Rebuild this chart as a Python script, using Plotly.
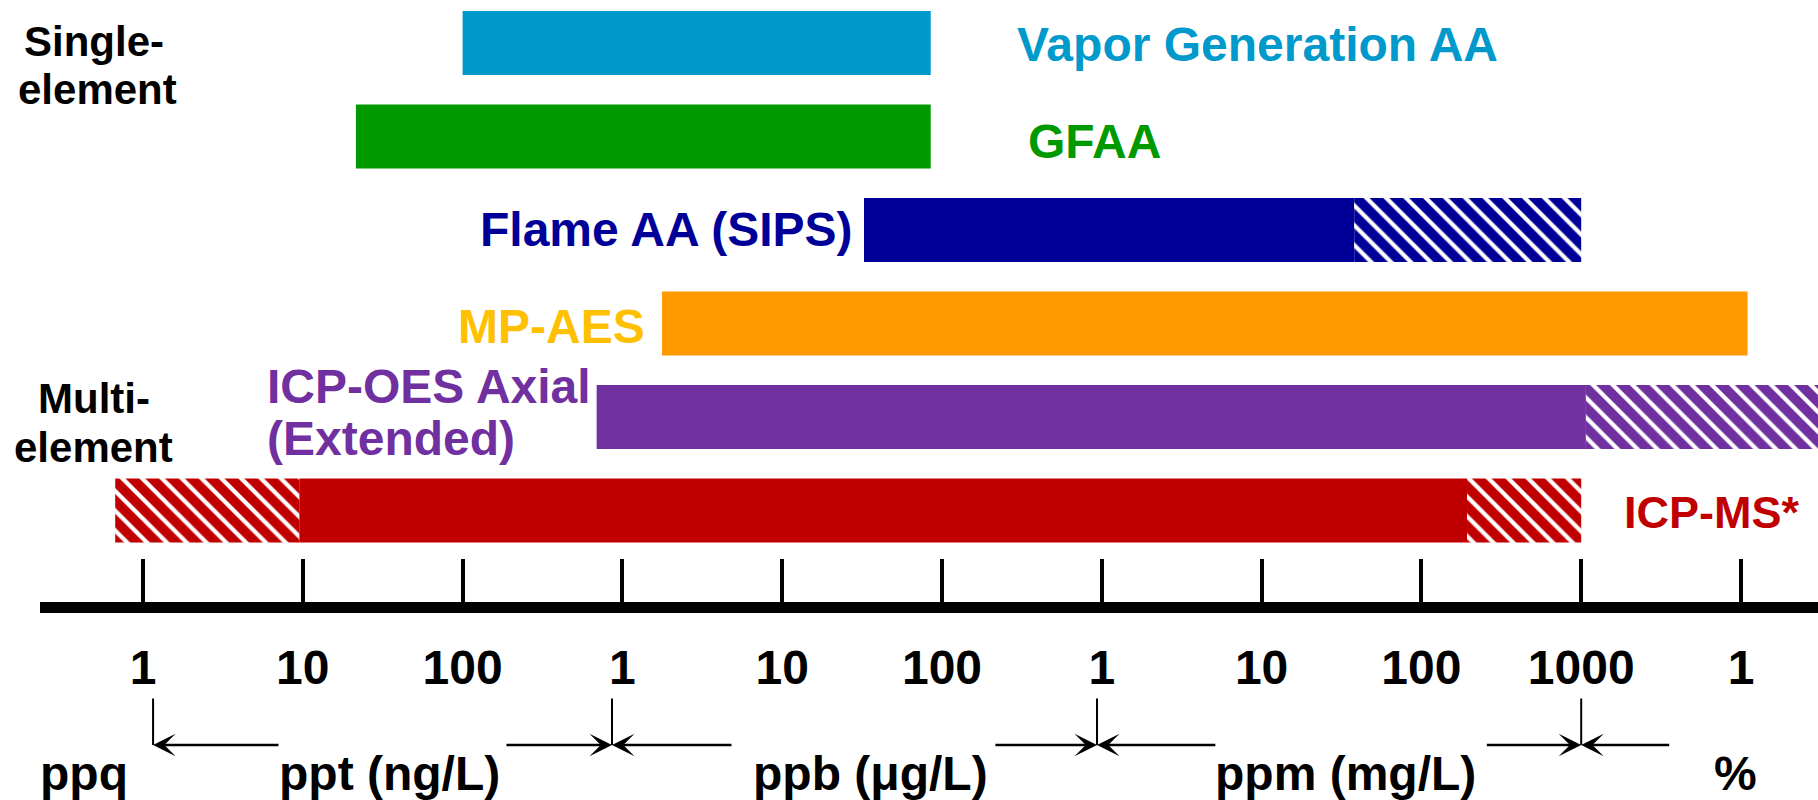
import numpy as np
import plotly.graph_objects as go

# ---------------- data (concentrations in ppt = ng/L) ----------------
techniques = ["Vapor Generation AA", "GFAA", "Flame AA (SIPS)", "MP-AES",
              "ICP-OES Axial (Extended)", "ICP-MS*"]
bar_colors = ["#0099CC", "#009900", "#000099", "#FF9900", "#7030A0", "#C00000"]

# solid (typical) working range per technique
solid_start = [100, 21.5, 32500, 1770, 690, 9.5]
solid_end = [85000, 85000, 3.8e7, 1.1e10, 1.07e9, 1.93e8]

# hatched (extended) ranges
hatch_tech = ["Flame AA (SIPS)", "ICP-OES Axial (Extended)", "ICP-MS*", "ICP-MS*"]
hatch_start = [3.8e7, 1.07e9, 0.67, 1.93e8]
hatch_end = [1e9, 3.2e10, 9.5, 1e9]

# axis ticks (decades) and their labels
tick_vals = [1, 10, 100, 1e3, 1e4, 1e5, 1e6, 1e7, 1e8, 1e9, 1e10]
tick_text = ["1", "10", "100", "1", "10", "100", "1", "10", "100", "1000", "1"]

# unit names along the bottom
unit_labels = ["ppq", "ppt (ng/L)", "ppb (μg/L)", "ppm (mg/L)", "%"]

# ---------------- layout helpers (pixel geometry) ----------------
W, H = 1818, 800
ML, MB = 40, 198
PW, PH = W - ML, H - MB
FONT = "Liberation Sans, Arial, Helvetica, sans-serif"


def pxx(px):
    return (px - ML) / PW


def pyy(py):
    return 1 - py / PH


row_of = {t: i for i, t in enumerate(techniques)}
color_of = dict(zip(techniques, bar_colors))

fig = go.Figure()

fig.add_trace(go.Bar(
    orientation="h",
    y=[row_of[t] for t in techniques],
    base=solid_start,
    x=[e - s for s, e in zip(solid_start, solid_end)],
    width=0.685,
    marker=dict(color=bar_colors, line=dict(width=0)),
    hoverinfo="skip",
    showlegend=False,
))

hcols = [color_of[t] for t in hatch_tech]
fig.add_trace(go.Bar(
    orientation="h",
    y=[row_of[t] for t in hatch_tech],
    base=hatch_start,
    x=[e - s for s, e in zip(hatch_start, hatch_end)],
    width=0.685,
    marker=dict(color=hcols, line=dict(width=0),
                pattern=dict(shape="\\", fgcolor="white", bgcolor=hcols,
                             fgopacity=1, size=14, solidity=0.3,
                             fillmode="overlay")),
    hoverinfo="skip",
    showlegend=False,
))

annotations = []


def text(t, x, y, color, size=48, xanchor="left"):
    annotations.append(dict(
        text=t, x=pxx(x), y=pyy(y), xref="paper", yref="paper",
        xanchor=xanchor, yanchor="middle", showarrow=False,
        font=dict(family=FONT, size=size, color=color, weight="bold")))


# technique labels
text("Vapor Generation AA", 1015, 45, "#0099CC")
text("GFAA", 1026, 141, "#009900")
text("Flame AA (SIPS)", 855, 230, "#000099", xanchor="right")
text("MP-AES", 647, 326, "#FFC000", xanchor="right")
text("ICP-OES Axial", 265, 386, "#7030A0")
text("(Extended)", 265, 438, "#7030A0")
text("ICP-MS*", 1802, 512, "#C00000", size=45, xanchor="right")

# group labels
text("Single-", 94, 41, "black", size=42, xanchor="center")
text("element", 97, 90, "black", size=42, xanchor="center")
text("Multi-", 94, 398, "black", size=42, xanchor="center")
text("element", 93, 447, "black", size=42, xanchor="center")

# unit labels
unit_centres = [84, 389, 870, 1345, 1735]
for lab, cx in zip(unit_labels, unit_centres):
    text(lab, cx, 773, "black", xanchor="center")

# bracket arrows (log10 ppt positions)
bracket_x = [0.063, 2.935, 5.97, 9.0]
arrow_pairs = [(0.063, 0.857), (2.935, 2.265), (2.935, 3.692),
               (5.97, 5.325), (5.97, 6.72), (9.0, 8.40), (9.0, 9.56)]
y_arrow = pyy(745)
for bx in bracket_x:
    annotations.append(dict(
        x=bx, y=y_arrow, xref="x", yref="paper", text="",
        showarrow=True, arrowhead=0, arrowwidth=2, arrowcolor="black",
        axref="pixel", ayref="pixel", ax=0, ay=-48))
for head, tail in arrow_pairs:
    annotations.append(dict(
        x=head, y=y_arrow, xref="x", yref="paper", text="",
        showarrow=True, arrowhead=3, arrowsize=1.5, arrowwidth=2.5,
        arrowcolor="black", axref="x", ayref="pixel", ax=tail, ay=0))

fig.update_layout(
    width=W, height=H,
    margin=dict(l=ML, r=0, t=0, b=MB, pad=0),
    paper_bgcolor="white", plot_bgcolor="white",
    barmode="overlay",
    annotations=annotations,
    xaxis=dict(
        type="log",
        range=[(40 - 143) / 159.8, (1818 - 143) / 159.8],
        tickmode="array", tickvals=tick_vals, ticktext=tick_text,
        ticks="inside", ticklen=43, tickwidth=4, tickcolor="black",
        showline=True, linewidth=11, linecolor="black",
        showgrid=False, zeroline=False,
        tickfont=dict(family=FONT, size=48, color="black", weight="bold"),
        ticklabelstandoff=13,
        fixedrange=True,
    ),
    yaxis=dict(
        range=[5.98, -0.46], visible=False, showgrid=False,
        zeroline=False, fixedrange=True,
    ),
)

fig.write_html(
    "out.html",
    config={"displayModeBar": False},
    post_script="document.body.style.margin='0';document.body.style.overflow='hidden';",
)
